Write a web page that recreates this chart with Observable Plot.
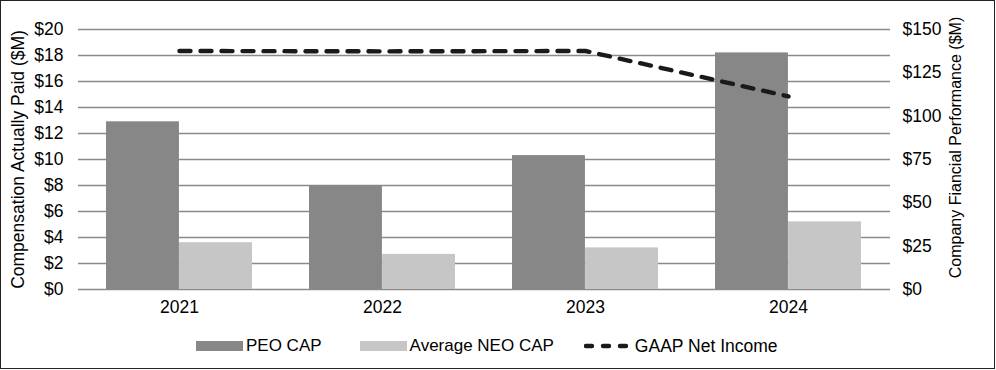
<!DOCTYPE html>
<html><head><meta charset="utf-8">
<script src="https://cdn.jsdelivr.net/npm/d3@7"></script>
<script src="https://cdn.jsdelivr.net/npm/@observablehq/plot@0.6"></script>
<style>
body{margin:0;background:#fff;font-family:"Liberation Sans",Arial,sans-serif;}
#wrap{position:relative;width:996px;height:370px;overflow:hidden;background:#fff}
#frame{position:absolute;left:0;top:0;width:995px;height:369px;box-sizing:border-box;border:1.5px solid #222;pointer-events:none}
#chart svg{display:block}
#legend{position:absolute;top:336px;left:196px;display:flex;align-items:center;font-size:17px;color:#000;white-space:nowrap;height:20px}
#legend .sw{display:inline-block;width:47px;height:10px;margin-right:3px}
#legend .item{display:flex;align-items:center}
</style>
</head><body>
<div id="wrap">
  <div id="chart"></div>
  <div id="legend"></div>
  <div id="frame"></div>
</div>
<script>
const years = ["2021", "2022", "2023", "2024"];
const peoCap = [12.9, 8.0, 10.3, 18.2];
const neoCap = [3.6, 2.7, 3.2, 5.2];
const netIncome = [137.6, 137.4, 137.6, 111.4];
const leftTicks = [0, 2, 4, 6, 8, 10, 12, 14, 16, 18, 20];
const rightTicks = [0, 25, 50, 75, 100, 125, 150];
const seriesNames = ["PEO CAP", "Average NEO CAP", "GAAP Net Income"];
const colors = ["#878787", "#c6c6c6", "#1a1a1a"];
const leftTitle = "Compensation Actually Paid ($M)";
const rightTitle = "Company Fiancial Performance ($M)";

const leftMax = 20, rightMax = 150;
const toLeft = v => v * leftMax / rightMax;

const rows = years.map((y, i) => ({year: y, peo: peoCap[i], neo: neoCap[i], net: netIncome[i]}));

const width = 996, height = 320, mL = 78, mR = 106;
const pIn = 0.28, pOut = 0.14;
const step = (width - mL - mR) / (years.length - pIn + 2 * pOut);
const half = step * (1 - pIn) / 2;

const chart = Plot.plot({
  width, height,
  marginLeft: mL, marginRight: mR, marginTop: 29, marginBottom: 31,
  style: {fontFamily: '"Liberation Sans", Arial, sans-serif', fontSize: "17px", color: "#000", background: "transparent", overflow: "visible"},
  x: {type: "band", domain: years, paddingInner: pIn, paddingOuter: pOut, label: null},
  y: {domain: [0, leftMax], label: null},
  marks: [
    Plot.ruleY(leftTicks, {stroke: "#8a8a8a", strokeWidth: 1.4}),
    Plot.barY(rows, {x: "year", y: "peo", fill: colors[0], insetRight: half, insetLeft: 0}),
    Plot.barY(rows, {x: "year", y: "neo", fill: colors[1], insetLeft: half, insetRight: 0}),
    Plot.lineY(rows, {x: "year", y: d => toLeft(d.net), stroke: colors[2], strokeWidth: 4.4, strokeDasharray: "11,10", strokeLinecap: "round"}),
    Plot.axisY(leftTicks, {anchor: "left", tickSize: 0, tickPadding: 15, fontSize: 17.5, tickFormat: d => "$" + d,
      label: leftTitle, labelAnchor: "center", labelArrow: "none", labelOffset: 67}),
    Plot.axisY(rightTicks.map(toLeft), {anchor: "right", tickSize: 0, tickPadding: 12, fontSize: 17.5, textAnchor: "start",
      tickFormat: d => "$" + Math.round(d * rightMax / leftMax), label: null}),
    Plot.text([rightTitle], {text: d => d, frameAnchor: "right", rotate: -90, textAnchor: "middle",
      dx: 65, dy: -12, fontSize: 16, fill: "#000"}),
    Plot.axisX({tickSize: 0, tickPadding: 11, fontSize: 17.5, label: null})
  ]
});
document.getElementById("chart").appendChild(chart);

const legend = document.getElementById("legend");
const gaps = [38, 30, 0];
seriesNames.forEach((name, i) => {
  const item = document.createElement("div");
  item.className = "item";
  item.style.marginRight = gaps[i] + "px";
  if (i < 2) {
    const sw = document.createElement("span");
    sw.className = "sw";
    sw.style.background = colors[i];
    item.appendChild(sw);
  } else {
    const ns = "http://www.w3.org/2000/svg";
    const svg = document.createElementNS(ns, "svg");
    svg.setAttribute("width", 48); svg.setAttribute("height", 10);
    svg.style.marginRight = "3px";
    const ln = document.createElementNS(ns, "line");
    ln.setAttribute("x1", 2); ln.setAttribute("x2", 42);
    ln.setAttribute("y1", 5); ln.setAttribute("y2", 5);
    ln.setAttribute("stroke", colors[2]); ln.setAttribute("stroke-width", 4.4);
    ln.setAttribute("stroke-dasharray", "6,11"); ln.setAttribute("stroke-linecap", "round");
    svg.appendChild(ln);
    item.appendChild(svg);
  }
  const t = document.createElement("span");
  t.textContent = name;
  if (i === 2) t.style.fontSize = "17.5px";
  item.appendChild(t);
  legend.appendChild(item);
});
</script>
</body></html>
